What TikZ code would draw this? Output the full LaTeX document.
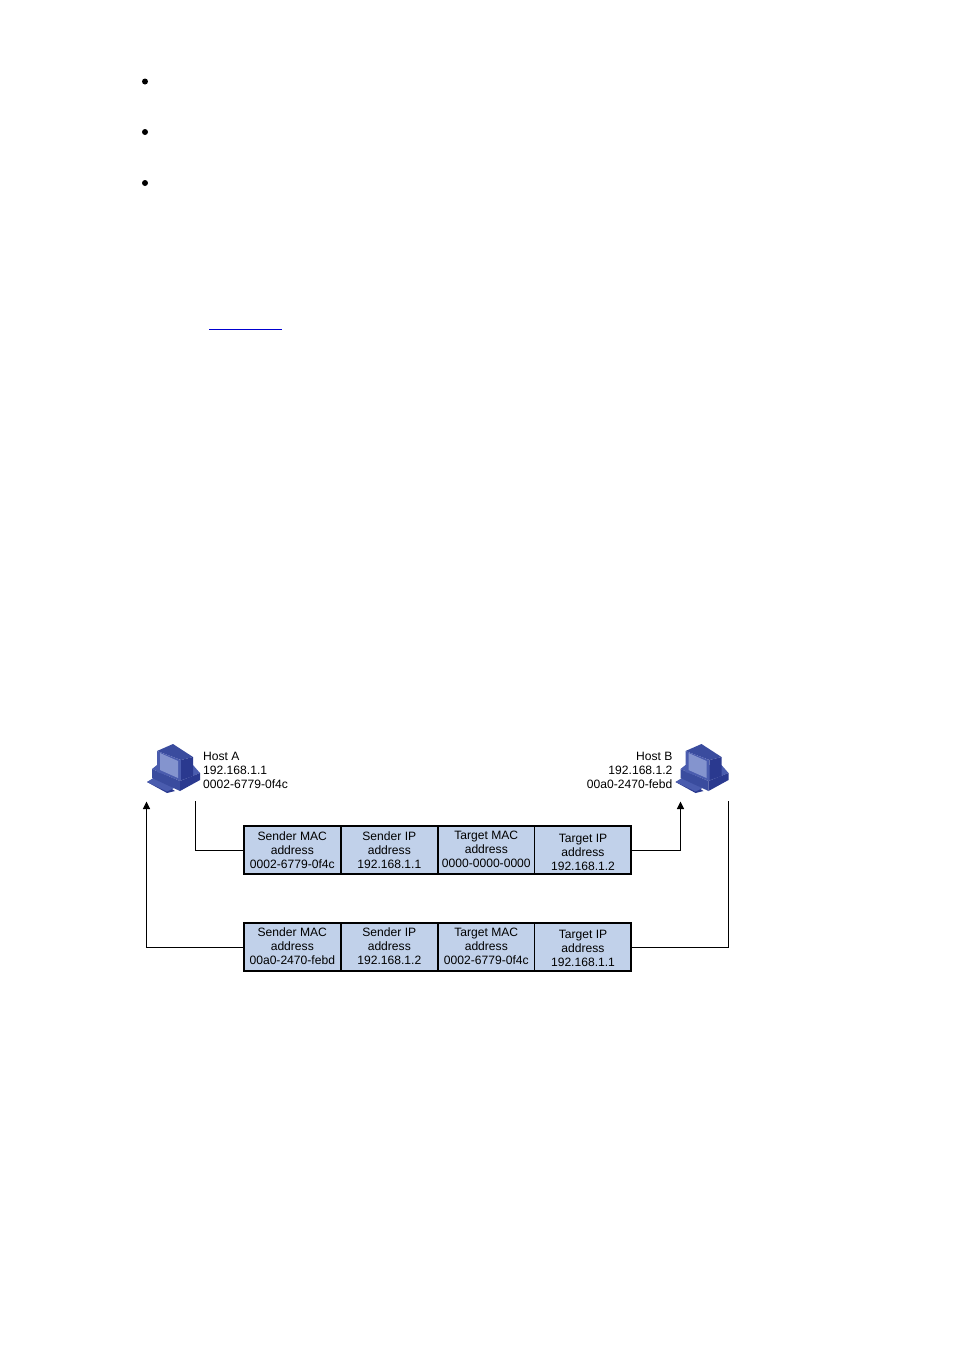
\documentclass[tikz,border=0pt]{standalone}
\usepackage{fontspec}
\setmainfont{Liberation Sans}
\usetikzlibrary{arrows.meta}
\definecolor{cellfill}{HTML}{C1D1EA}
\definecolor{pcdark}{HTML}{2A398F}
\definecolor{pcmid}{HTML}{3A4C9E}
\definecolor{pclight}{HTML}{4A5CAE}
\definecolor{pcscreen}{HTML}{8494CE}
\definecolor{linkblue}{HTML}{0000D0}
\tikzset{
 x=1pt,y=1pt,
 cellbox/.style={draw=black,line width=1.8pt,fill=cellfill,minimum width=97pt,minimum height=48.2pt,inner sep=0pt,outer sep=0pt,anchor=north west},
 cellthin/.style={cellbox,line width=1.2pt,minimum width=96.8pt},
 celltxt/.style={font=\fontsize{12.1pt}{14pt}\selectfont,align=center,inner sep=0pt},
 hosttxt/.style={font=\fontsize{12.1pt}{14pt}\selectfont,inner sep=0pt},
 link/.style={draw=black,line width=1pt},
 tip/.style={-{Triangle[length=7.5pt,width=7pt]}},
 bullet/.style={circle,fill=black,inner sep=0pt,minimum size=6pt},
 pcicon/.pic={
  % keyboard tray
  \fill[pcdark] (-27,-14)--(-7,-25)--(1,-23)--(-19,-10)--cycle;
  \fill[pclight] (-27,-14)--(-7,-23.5)--(0,-20)--(-19,-9)--cycle;
  % case
  \fill[pclight] (-22,-1)--(-17,3)--(19,3)--(26,-5)--(6,-13)--cycle;
  \fill[pcmid] (-22,-1)--(6,-13)--(6,-23)--(-22,-10)--cycle;
  \fill[pcdark] (6,-13)--(26,-5)--(26,-12)--(6,-23)--cycle;
  % monitor
  \fill[pcmid] (-17,17)--(-1,24)--(19,11)--(7,8)--cycle;
  \fill[pclight] (-17,17)--(7,8)--(7,-12)--(-17,-4)--cycle;
  \fill[pcdark] (7,8)--(19,11)--(19,-8)--(7,-12)--cycle;
  \fill[pcscreen] (-14,15)--(4,7)--(4,-10)--(-14,-2)--cycle;
 }
}
\begin{document}
\begin{tikzpicture}
\useasboundingbox (0,0) rectangle (954,-1350);
% bullets
\node[bullet] (b1) at (145,-81.5) {};
\node[bullet] (b2) at (145,-132) {};
\node[bullet] (b3) at (145,-183) {};
\coordinate (ula) at (209,-329);
\coordinate (ulb) at (282,-329);
\draw[draw=linkblue,line width=0.9pt] (ula)--(ulb);
% icons
\pic at (174,-768) {pcicon};
\pic at (702.5,-768) {pcicon};
\coordinate (ca) at (195.5,-801);
\coordinate (cb) at (146.5,-801.5);
\coordinate (cc) at (680.5,-801.5);
\coordinate (cd) at (728.5,-801);
% host labels
\node[hosttxt,anchor=west] (ha1) at (203,-756) {Host A};
\node[hosttxt,anchor=west] (ha2) at (203,-770) {192.168.1.1};
\node[hosttxt,anchor=west] (ha3) at (203,-784) {0002-6779-0f4c};
\node[hosttxt,anchor=east] (hb1) at (672.6,-756) {Host B};
\node[hosttxt,anchor=east] (hb2) at (672.6,-770) {192.168.1.2};
\node[hosttxt,anchor=east] (hb3) at (672.6,-784) {00a0-2470-febd};
% rows
\node[cellbox] (r11) at (244,-826) {};
\node[cellbox] (r12) at (341,-826) {};
\node[cellbox] (r13) at (438,-826) {};
\node[cellthin] (r14) at (534.5,-826) {};
\node[cellbox] (r21) at (244,-922.9) {};
\node[cellbox] (r22) at (341,-922.9) {};
\node[cellbox] (r23) at (438,-922.9) {};
\node[cellthin] (r24) at (534.5,-922.9) {};
\draw[line width=1.8pt] (r11.north west) rectangle (r14.south east);
\draw[line width=1.8pt] (r21.north west) rectangle (r24.south east);
\node[celltxt] at (292.3,-849.7) {Sender MAC\\address\\0002-6779-0f4c};
\node[celltxt] at (389.3,-849.7) {Sender IP\\address\\192.168.1.1};
\node[celltxt] at (486.3,-849.7) {Target MAC\\address\\0000-0000-0000};
\node[celltxt] at (583,-852) {Target IP\\address\\192.168.1.2};
\node[celltxt] at (292.3,-946.2) {Sender MAC\\address\\00a0-2470-febd};
\node[celltxt] at (389.3,-946.2) {Sender IP\\address\\192.168.1.2};
\node[celltxt] at (486.3,-946.2) {Target MAC\\address\\0002-6779-0f4c};
\node[celltxt] at (583,-948.7) {Target IP\\address\\192.168.1.1};
% connectors
\draw[link] (ca) |- (r11.west);
\draw[link,tip] (r14.east) -| (cc);
\draw[link,tip] (r21.west) -| (cb);
\draw[link] (r24.east) -| (cd);
\end{tikzpicture}
\end{document}
